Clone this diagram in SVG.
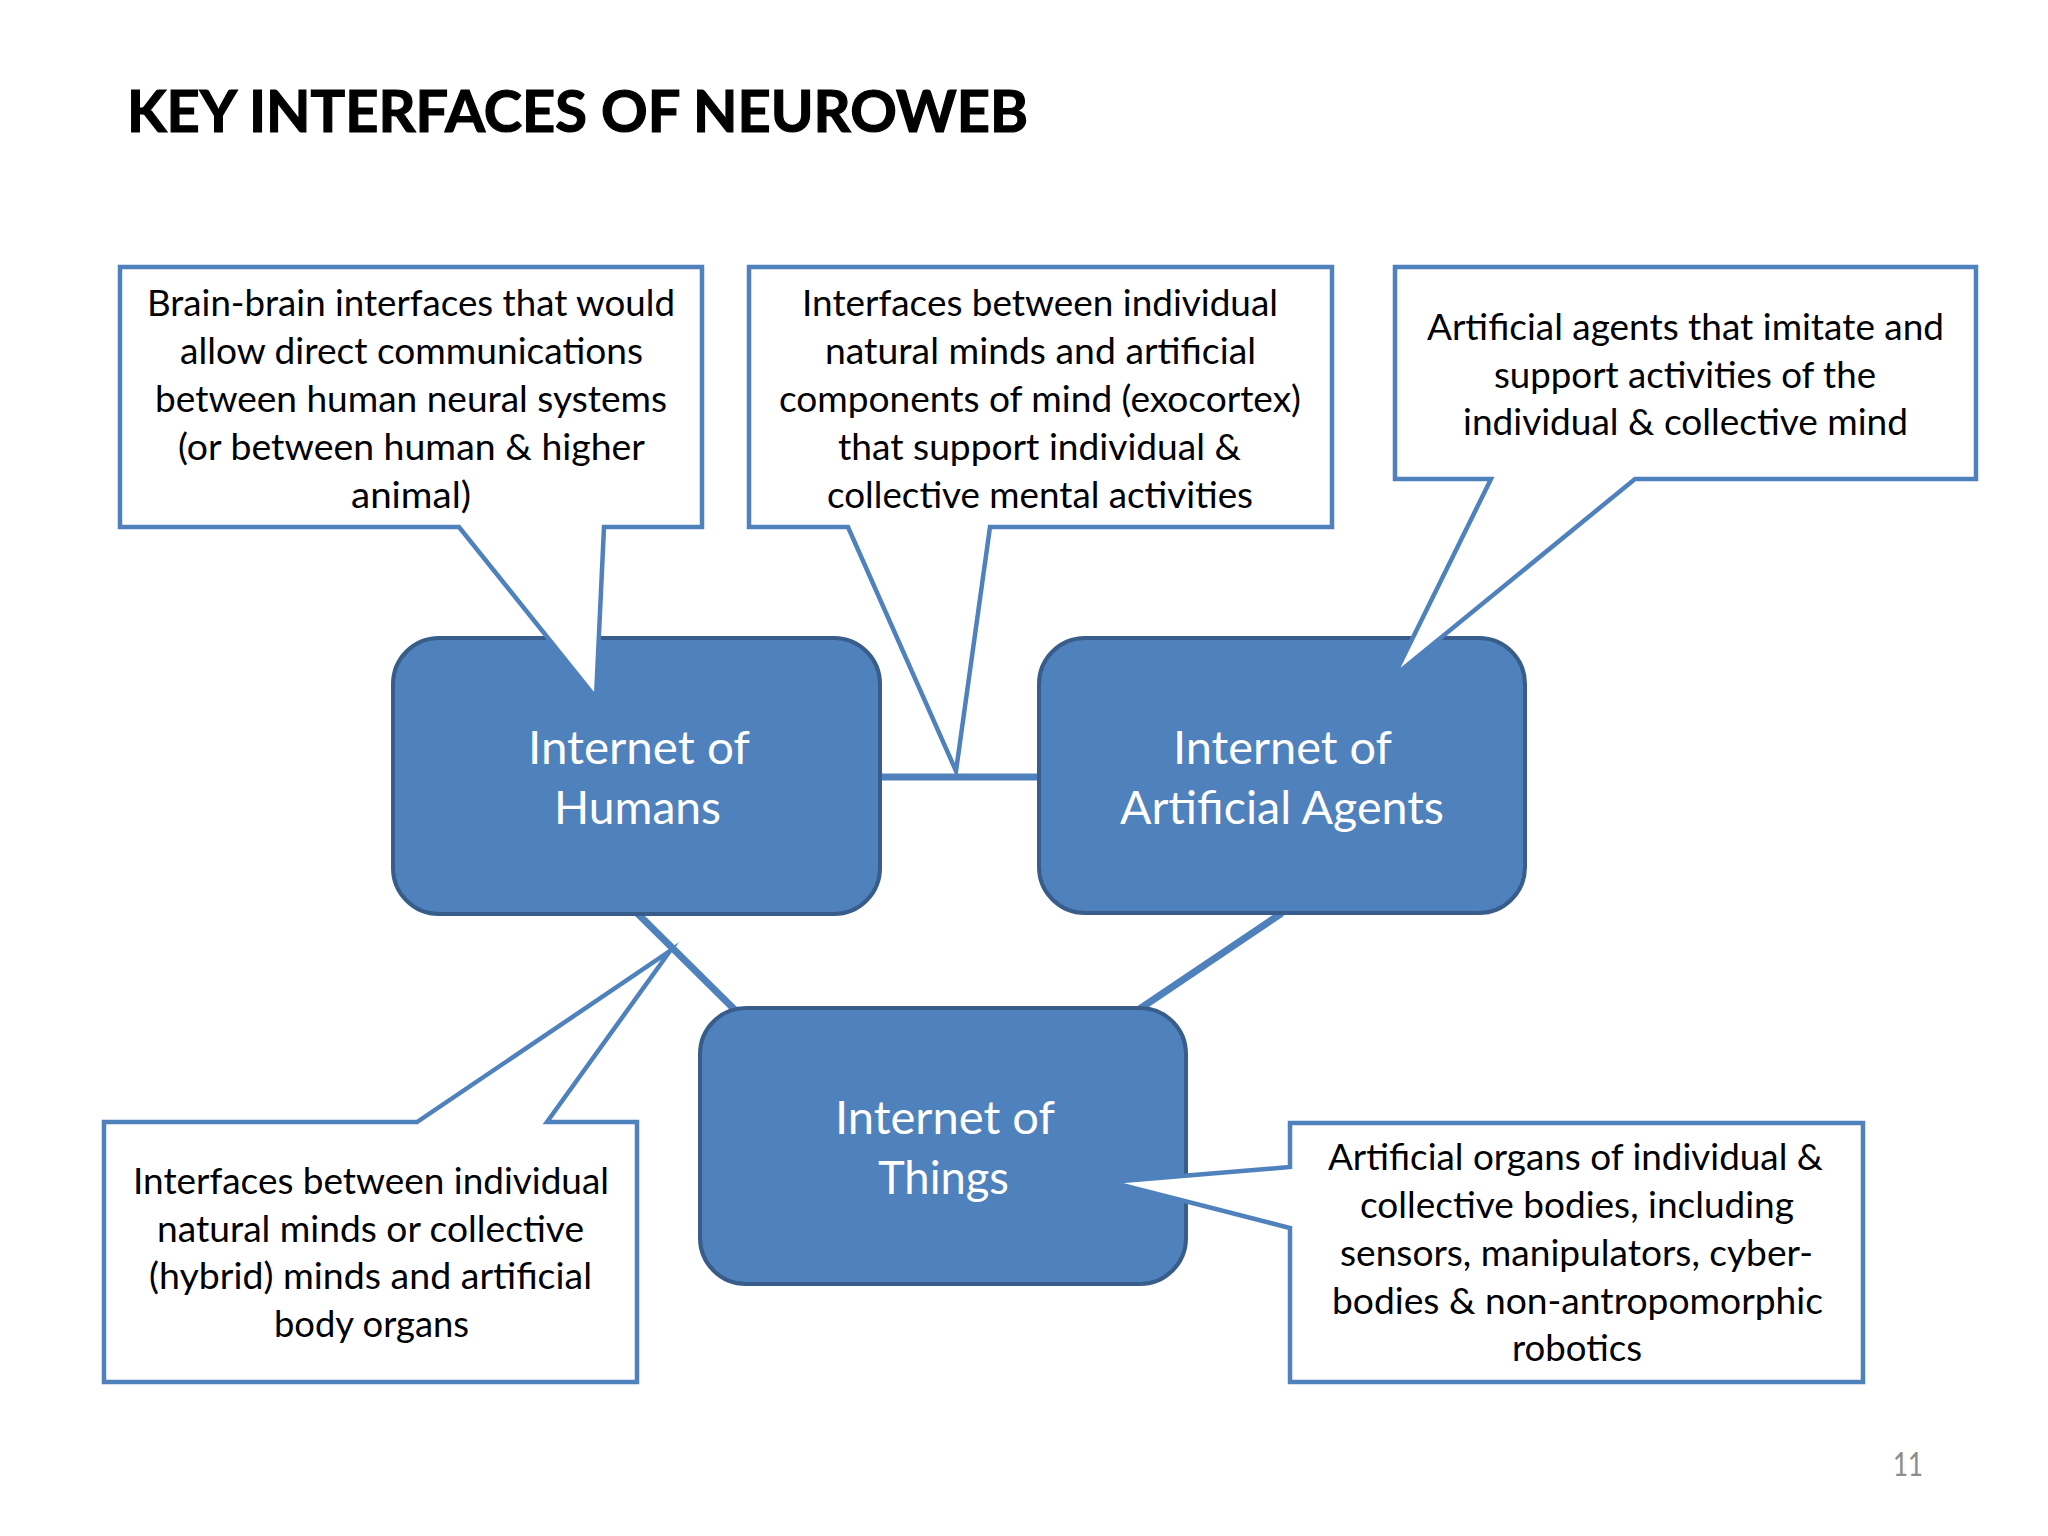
<svg xmlns="http://www.w3.org/2000/svg" width="2048" height="1536" viewBox="0 0 2048 1536">
<style>
.callout{fill:#ffffff;stroke:#4f81bd;stroke-width:4.5;stroke-linejoin:miter;stroke-miterlimit:20}
.node{fill:#4f81bd;stroke:#385d8a;stroke-width:4}
.conn{stroke:#4f81bd;stroke-width:7;fill:none}
.ct{font-family:Lato,"Liberation Sans",sans-serif;font-size:36px;fill:#000000}
.nt{font-family:Lato,"Liberation Sans",sans-serif;font-size:46px;fill:#ffffff}
.title{font-family:Lato,"Liberation Sans",sans-serif;font-size:58px;font-weight:bold;fill:#000000;stroke:#000000;stroke-width:1.2}
.pg{font-family:Lato,"Liberation Sans",sans-serif;font-size:32px;fill:#8c8c8c}
</style>
<rect x="0" y="0" width="2048" height="1536" fill="#ffffff"/>
<text class="title" x="127" y="132" textLength="901" lengthAdjust="spacingAndGlyphs">KEY INTERFACES OF NEUROWEB</text>
<g id="connectors">
<line class="conn" x1="879" y1="777" x2="1040" y2="777"/>
<line class="conn" x1="637" y1="913" x2="735" y2="1010"/>
<line class="conn" x1="1282" y1="913" x2="1138" y2="1010"/>
</g>
<g id="node-humans">
<rect class="node" x="393" y="638" width="487" height="276" rx="46" ry="46"/>
<text class="nt" x="528" y="764" textLength="222" lengthAdjust="spacingAndGlyphs">Internet of</text>
<text class="nt" x="554" y="824" textLength="167" lengthAdjust="spacingAndGlyphs">Humans</text>
</g>
<g id="node-agents">
<rect class="node" x="1039" y="638" width="486" height="275" rx="46" ry="46"/>
<text class="nt" x="1173" y="764" textLength="219" lengthAdjust="spacingAndGlyphs">Internet of</text>
<text class="nt" x="1120" y="824" textLength="324" lengthAdjust="spacingAndGlyphs">Artificial Agents</text>
</g>
<g id="node-things">
<rect class="node" x="700" y="1008" width="486" height="276" rx="46" ry="46"/>
<text class="nt" x="835" y="1134" textLength="220" lengthAdjust="spacingAndGlyphs">Internet of</text>
<text class="nt" x="878" y="1194" textLength="131" lengthAdjust="spacingAndGlyphs">Things</text>
</g>
<g id="callout-brain">
<path class="callout" d="M120,267 H702 V527 H604 L596,698 L459,527 H120 Z"/>
<text class="ct" x="147" y="316" textLength="528" lengthAdjust="spacingAndGlyphs">Brain-brain interfaces that would</text>
<text class="ct" x="180" y="364" textLength="463" lengthAdjust="spacingAndGlyphs">allow direct communications</text>
<text class="ct" x="155" y="412" textLength="512" lengthAdjust="spacingAndGlyphs">between human neural systems</text>
<text class="ct" x="178" y="460" textLength="467" lengthAdjust="spacingAndGlyphs">(or between human &amp; higher</text>
<text class="ct" x="351" y="508" textLength="120" lengthAdjust="spacingAndGlyphs">animal)</text>
</g>
<g id="callout-exocortex">
<path class="callout" d="M749,267 H1332 V527 H990 L956,771 L848,527 H749 Z"/>
<text class="ct" x="802" y="316" textLength="476" lengthAdjust="spacingAndGlyphs">Interfaces between individual</text>
<text class="ct" x="825" y="364" textLength="431" lengthAdjust="spacingAndGlyphs">natural minds and artificial</text>
<text class="ct" x="779" y="412" textLength="522" lengthAdjust="spacingAndGlyphs">components of mind (exocortex)</text>
<text class="ct" x="838" y="460" textLength="403" lengthAdjust="spacingAndGlyphs">that support individual &amp;</text>
<text class="ct" x="827" y="508" textLength="426" lengthAdjust="spacingAndGlyphs">collective mental activities</text>
</g>
<g id="callout-agents">
<path class="callout" d="M1395,267 H1976 V479 H1635 L1394,676 L1491,479 H1395 Z"/>
<text class="ct" x="1427" y="340" textLength="517" lengthAdjust="spacingAndGlyphs">Artificial agents that imitate and</text>
<text class="ct" x="1494" y="388" textLength="382" lengthAdjust="spacingAndGlyphs">support activities of the</text>
<text class="ct" x="1463" y="435" textLength="445" lengthAdjust="spacingAndGlyphs">individual &amp; collective mind</text>
</g>
<g id="callout-body">
<path class="callout" d="M104,1122 H417 L670,951 L547,1122 H637 V1382 H104 Z"/>
<text class="ct" x="133" y="1194" textLength="476" lengthAdjust="spacingAndGlyphs">Interfaces between individual</text>
<text class="ct" x="157" y="1242" textLength="427" lengthAdjust="spacingAndGlyphs">natural minds or collective</text>
<text class="ct" x="149" y="1289" textLength="443" lengthAdjust="spacingAndGlyphs">(hybrid) minds and artificial</text>
<text class="ct" x="274" y="1337" textLength="195" lengthAdjust="spacingAndGlyphs">body organs</text>
</g>
<g id="callout-organs">
<path class="callout" d="M1290,1123 H1863 V1382 H1290 V1228 L1110,1182 L1290,1167 Z"/>
<text class="ct" x="1328" y="1170" textLength="495" lengthAdjust="spacingAndGlyphs">Artificial organs of individual &amp;</text>
<text class="ct" x="1360" y="1218" textLength="434" lengthAdjust="spacingAndGlyphs">collective bodies, including</text>
<text class="ct" x="1340" y="1266" textLength="473" lengthAdjust="spacingAndGlyphs">sensors, manipulators, cyber-</text>
<text class="ct" x="1332" y="1314" textLength="491" lengthAdjust="spacingAndGlyphs">bodies &amp; non-antropomorphic</text>
<text class="ct" x="1512" y="1361" textLength="130" lengthAdjust="spacingAndGlyphs">robotics</text>
</g>
<text class="pg" x="1893" y="1476" textLength="30" lengthAdjust="spacingAndGlyphs">11</text>
</svg>
